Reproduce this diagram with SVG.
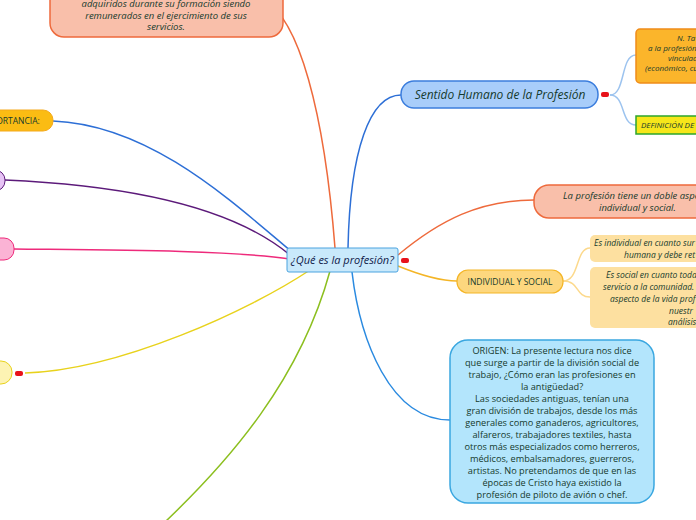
<svg xmlns="http://www.w3.org/2000/svg" width="696" height="520" viewBox="0 0 696 520">
<style>
.t{font-family:"Open Sans","Noto Sans",sans-serif;fill:#153a2c;text-anchor:middle}
.s{text-anchor:start}
.i{font-style:italic}
.c{fill:none;stroke-width:1.5}
.mk{fill:#e8121a}
</style>
<rect width="696" height="520" fill="#fff"/>
<g id="connectors">
<path class="c" stroke="#ee6a3c" d="M258,-2 C300,10 325,120 335,248"/>
<path class="c" stroke="#2d6fd6" d="M53,121 C150,125 230,200 292,252"/>
<path class="c" stroke="#5c1a7a" d="M5,180 C120,185 230,205 290,255"/>
<path class="c" stroke="#ee2a7b" d="M14,249 C100,250 230,250 290,259"/>
<path class="c" stroke="#e8d21c" d="M25,373 C120,370 250,310 310,270"/>
<path class="c" stroke="#8cbf1f" d="M330,271 C300,380 230,460 165,522"/>
<path class="c" stroke="#2d6fd6" d="M348,248 C350,150 370,95 401,95"/>
<path class="c" stroke="#2a8ae0" d="M352,272 C360,340 390,420 450,420"/>
<path class="c" stroke="#ee6a3c" d="M398,255 C440,220 480,200 534,200"/>
<path class="c" stroke="#f4b526" d="M398,266 C420,275 440,281 457,281"/>
<path class="c" stroke="#9cc3ef" stroke-width="1" d="M610,95 C626,95 620,55 636,55"/>
<path class="c" stroke="#9cc3ef" stroke-width="1" d="M610,95 C626,95 620,125 636,125"/>
<path class="c" stroke="#fcd98c" stroke-width="1" d="M563,281 C580,281 575,248 590,248"/>
<path class="c" stroke="#fcd98c" stroke-width="1" d="M563,281 C580,281 575,297 590,297"/>
</g>
<g id="n-top">
<rect x="50" y="-15" width="233" height="52" rx="14" fill="#f9bfaa" stroke="#ee6a3c" stroke-width="1.5"/>
<text class="t i" font-size="9.5"><tspan x="166" y="7">adquiridos durante su formación siendo</tspan><tspan x="166" y="19">remunerados en el ejercimiento de sus</tspan><tspan x="166" y="30">servicios.</tspan></text>
</g>
<g id="n-importancia">
<rect x="-20" y="110" width="73" height="21" rx="10" fill="#fbbc13" stroke="#f4a91a"/>
<text class="t" font-size="8.5" x="18" y="124">ORTANCIA:</text>
</g>
<g id="n-purple">
<rect x="-20" y="170" width="25" height="21" rx="10" fill="#e7c3f5" stroke="#5c1a7a"/>
</g>
<g id="n-pink">
<rect x="-20" y="238" width="34" height="22" rx="10" fill="#fbb3d5" stroke="#ee2a7b"/>
</g>
<g id="n-yellow">
<rect x="-20" y="361" width="32" height="23" rx="11" fill="#fdf3b3" stroke="#e8d21c"/>
<rect class="mk" x="15" y="371" width="8" height="5" rx="2"/>
</g>
<g id="n-center">
<rect x="287" y="248" width="111" height="24" rx="2" fill="#c9e9fb" stroke="#4aa3df"/>
<text class="t i" font-size="11" x="342.5" y="264" style="fill:#10204a">¿Qué es la profesión?</text>
<rect class="mk" x="401" y="258" width="8" height="5" rx="2"/>
</g>
<g id="n-sentido">
<rect x="401" y="81" width="197" height="27" rx="13" fill="#a8cdfa" stroke="#3b7ddd" stroke-width="1.5"/>
<text class="t i" font-size="12" x="500" y="99">Sentido Humano de la Profesión</text>
<rect class="mk" x="601" y="92" width="8" height="5" rx="2"/>
</g>
<g id="n-tarea">
<rect x="636" y="29" width="80" height="54" rx="4" fill="#fbb52b" stroke="#f08c1a" stroke-width="1.5"/>
<text class="t s i" font-size="8"><tspan x="677" y="41">N. Ta</tspan><tspan x="648" y="51">a la profesión</tspan><tspan x="668" y="61">vinculad</tspan><tspan x="645" y="71">(económico, cu</tspan></text>
</g>
<g id="n-definicion">
<rect x="636" y="116" width="80" height="18" fill="#f6e61a" stroke="#2da52d" stroke-width="1.5"/>
<text class="t s i" font-size="8" x="641" y="128">DEFINICIÓN DE .</text>
</g>
<g id="n-doble">
<rect x="534" y="185" width="180" height="33" rx="15" fill="#f9bfaa" stroke="#ee6a3c" stroke-width="1.5"/>
<text class="t s i" font-size="9.5"><tspan x="563" y="199">La profesión tiene un doble aspec</tspan><tspan x="599" y="211">individual y social.</tspan></text>
</g>
<g id="n-indsoc">
<rect x="457" y="270" width="106" height="23" rx="11" fill="#fdd77e" stroke="#f4b526" stroke-width="1.2"/>
<text class="t" font-size="8.5" x="510" y="285">INDIVIDUAL Y SOCIAL</text>
</g>
<g id="n-individual">
<rect x="590" y="235" width="120" height="27" rx="5" fill="#fde0a0"/>
<text class="t s i" font-size="8.5"><tspan x="594" y="246">Es individual en cuanto sur</tspan><tspan x="624" y="258">humana y debe ret</tspan></text>
</g>
<g id="n-social">
<rect x="590" y="267" width="120" height="61" rx="5" fill="#fde0a0"/>
<text class="t s i" font-size="8.5"><tspan x="606" y="278">Es social en cuanto toda</tspan><tspan x="603" y="290">servicio a la comunidad. .</tspan><tspan x="610" y="302">aspecto de la vida prof</tspan><tspan x="669" y="314">nuestr</tspan><tspan x="668" y="325">análisis.</tspan></text>
</g>
<g id="n-origen">
<rect x="450" y="340" width="204" height="163" rx="18" fill="#b3e5fc" stroke="#3aa7e0" stroke-width="1.5"/>
<text class="t" font-size="9.2"><tspan x="552" y="354">ORIGEN: La presente lectura nos dice</tspan><tspan x="552" y="366">que surge a partir de la división social de</tspan><tspan x="552" y="378">trabajo, ¿Cómo eran las profesiones en</tspan><tspan x="552" y="390">la antigüedad?</tspan><tspan x="552" y="402">Las sociedades antiguas, tenían una</tspan><tspan x="552" y="414">gran división de trabajos, desde los más</tspan><tspan x="552" y="426">generales como ganaderos, agricultores,</tspan><tspan x="552" y="438">alfareros, trabajadores textiles, hasta</tspan><tspan x="552" y="450">otros más especializados como herreros,</tspan><tspan x="552" y="462">médicos, embalsamadores, guerreros,</tspan><tspan x="552" y="474">artistas. No pretendamos de que en las</tspan><tspan x="552" y="486">épocas de Cristo haya existido la</tspan><tspan x="552" y="498">profesión de piloto de avión o chef.</tspan></text>
</g>
</svg>
